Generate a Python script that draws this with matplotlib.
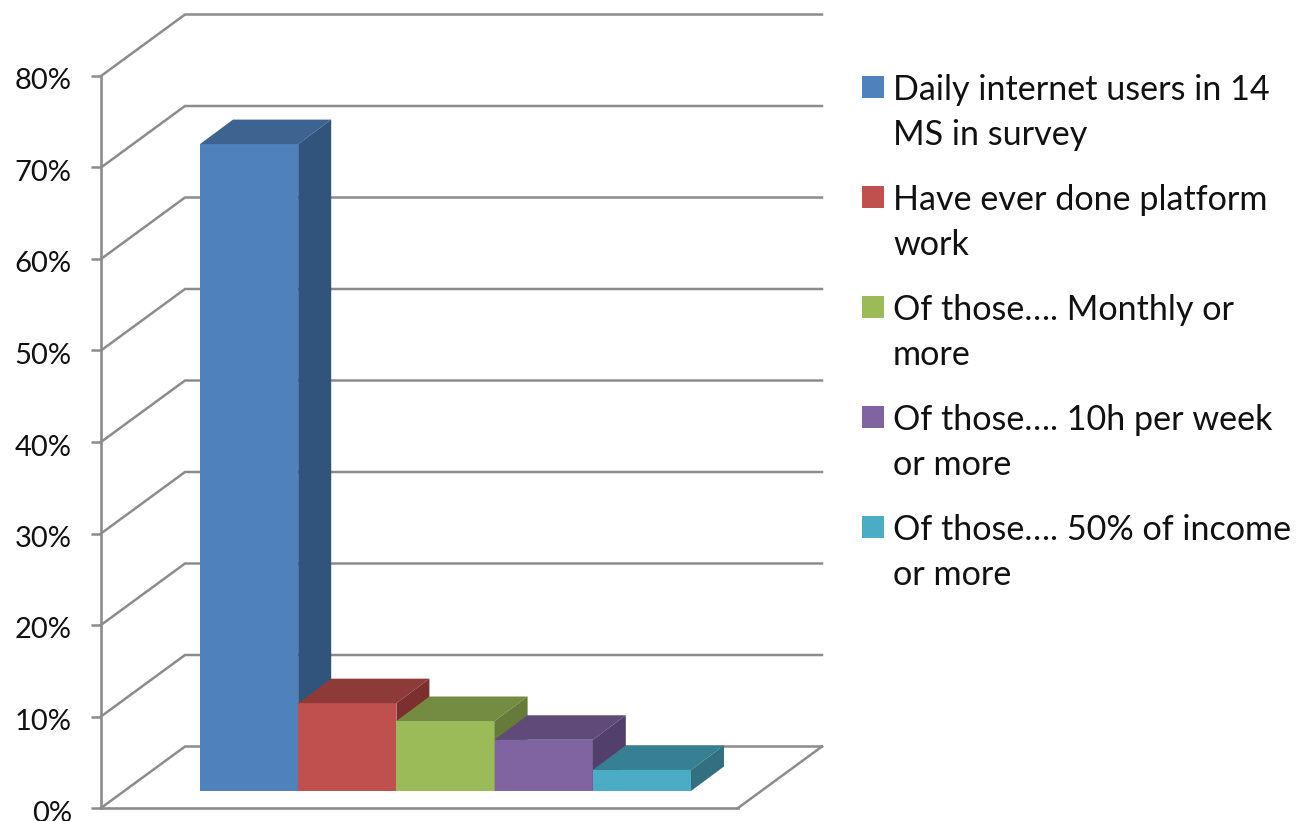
import matplotlib
matplotlib.use('Agg')
import matplotlib.pyplot as plt
from matplotlib.patches import Polygon, Rectangle
from matplotlib.ticker import FuncFormatter
from matplotlib.transforms import Affine2D, ScaledTranslation

labels = ['Daily internet users in 14\nMS in survey',
          'Have ever done platform\nwork',
          'Of those…. Monthly or\nmore',
          'Of those…. 10h per week\nor more',
          'Of those…. 50% of income\nor more']
values = [70.7, 9.6, 7.65, 5.6, 2.3]
ticks = [0, 10, 20, 30, 40, 50, 60, 70, 80]
front = ['#4F81BD', '#C0504D', '#9BBB59', '#8064A2', '#4BACC6']
top = ['#3D6491', '#8E3A38', '#748C42', '#5F4A79', '#377F93']
side = ['#31547D', '#7C2F2D', '#667B3A', '#533F6B', '#316F81']
grid_col = '#8C8C8C'

W, H = 1296, 821
px_x = 98.2   # one bar
px_y = 9.15   # one percent

plt.rcParams['font.family'] = ['Lato', 'DejaVu Sans']
fig = plt.figure(figsize=(W / 100, H / 100), dpi=100)
ax = fig.add_axes([0, 0, 1, 1])
ax.set_xlim(-200 / px_x, (W - 200) / px_x)
ax.set_ylim(-(H - 808) / px_y, 808 / px_y)


def X(p):
    return (p - 200) / px_x


# floor and back wall
wall_dx = 84 / px_x
wall_dy = 61.5 / px_y
x0 = X(101)
x_back = X(822)
for t in ticks:
    ax.plot([x0, x0 + wall_dx, x_back], [t, t + wall_dy, t + wall_dy],
            color=grid_col, lw=1.8, zorder=1, solid_joinstyle='miter')
ax.plot([X(738), x_back], [0, wall_dy], color=grid_col, lw=1.8, zorder=1)

# axis
for s in ['top', 'right']:
    ax.spines[s].set_visible(False)
ax.spines['left'].set_position(('data', x0))
ax.spines['left'].set_bounds(0, 80)
ax.spines['bottom'].set_position(('data', 0))
ax.spines['bottom'].set_bounds(x0, X(738))
for s in ['left', 'bottom']:
    ax.spines[s].set_color(grid_col)
    ax.spines[s].set_linewidth(1.9)
ax.set_xticks([])
ax.set_yticks(ticks)
ax.yaxis.set_major_formatter(FuncFormatter(lambda v, p: '%d%%' % v))
ax.tick_params(axis='y', length=7, width=1.8, color=grid_col, pad=14,
               labelsize=21, labelcolor='#111111')
down = ScaledTranslation(0, -3 / 100, fig.dpi_scale_trans)
for lab in ax.get_yticklabels():
    lab.set_transform(lab.get_transform() + down)

# 3d bars
floor = (808 - 791) / px_y
bar_dx = 33 / px_x
bar_dy = 24.5 / px_y
for i, v in enumerate(values):
    ax.bar(i, v, width=1, bottom=floor, align='edge', color=front[i], lw=0, zorder=3 + i)
    t = floor + v
    ax.add_patch(Polygon([(i, t), (i + 1, t), (i + 1 + bar_dx, t + bar_dy), (i + bar_dx, t + bar_dy)],
                         closed=True, fc=top[i], lw=0, zorder=3 + i))
    ax.add_patch(Polygon([(i + 1, floor), (i + 1 + bar_dx, floor + bar_dy), (i + 1 + bar_dx, t + bar_dy), (i + 1, t)],
                         closed=True, fc=side[i], lw=0, zorder=3 + i))

# legend
px = Affine2D().scale(1, -1).translate(0, H)
for i, lab in enumerate(labels):
    y = 76 + i * 110
    ax.add_patch(Rectangle((862, y), 22, 22, fc=front[i], lw=0, transform=px, clip_on=False))
    ax.text(893, y - 2.5, lab, transform=px, fontsize=24.55, va='top', ha='left',
            linespacing=1.51, color='#111111')

fig.savefig('out.png', dpi=100)
